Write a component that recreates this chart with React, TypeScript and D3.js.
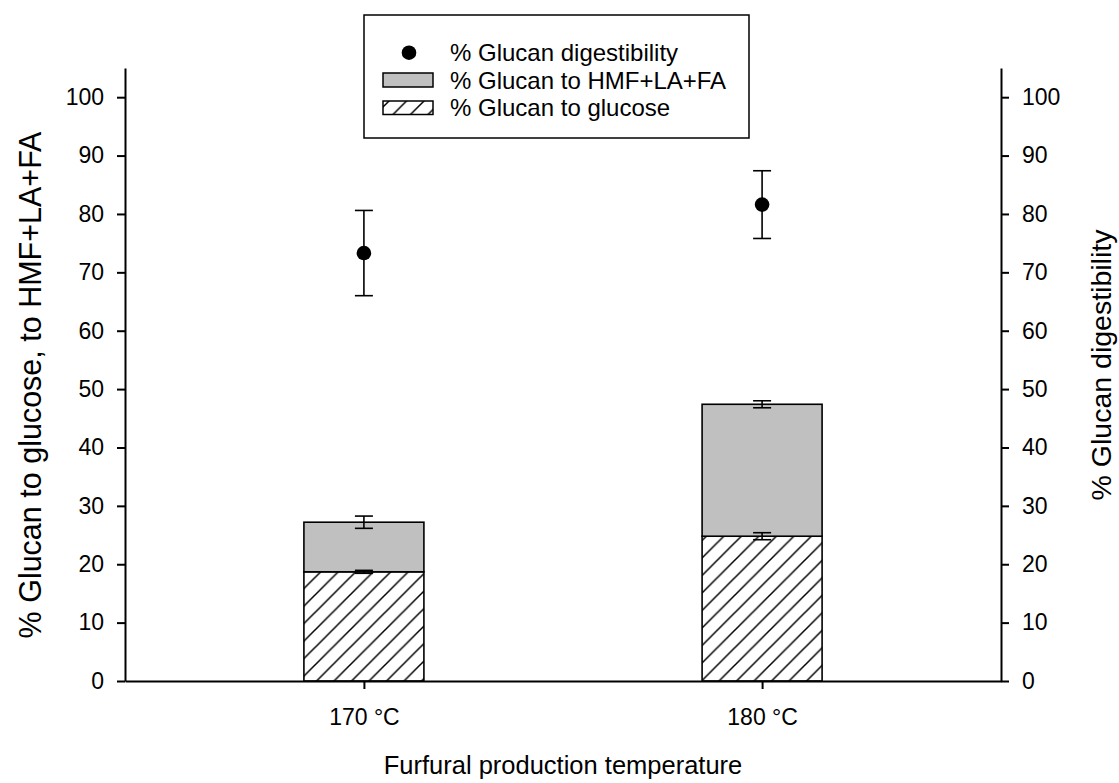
import React from "react";
import { select, scaleLinear, scalePoint, axisLeft, axisRight, axisBottom } from "d3";

// data
const categories = ["170 °C", "180 °C"];
const glucose = [18.7, 24.8];
const glucoseErr = [0.25, 0.6];
const hmfLaFa = [8.5, 22.6];
const totalErr = [1.05, 0.6];
const digestibility = [73.3, 81.6];
const digestibilityErr = [7.3, 5.8];
const yTicks = [0, 10, 20, 30, 40, 50, 60, 70, 80, 90, 100];

const W = 1119;
const H = 783;
const FONT = "Arial, 'Liberation Sans', Helvetica, sans-serif";

export default function App() {
  const svgRef = React.useRef<SVGSVGElement>(null);

  const plot = { left: 125, right: 1001, top: 68, bottom: 681 };
  const y = scaleLinear().domain([0, 105]).range([plot.bottom, plot.top]);
  const x = scalePoint().domain(categories).range([plot.left, plot.right]).padding(0.6);
  const barW = 120;
  const capW = 18;

  React.useEffect(() => {
    const svg = select(svgRef.current);
    const yAxisL = axisLeft(y).tickValues(yTicks).tickSize(8).tickSizeOuter(0).tickPadding(13);
    const yAxisR = axisRight(y).tickValues(yTicks).tickSize(8).tickSizeOuter(0).tickPadding(13);
    const xAxis = axisBottom(x).tickSize(8).tickSizeOuter(0).tickPadding(20);

    svg.select(".y-axis-left").attr("transform", `translate(${plot.left},0)`).call(yAxisL as any);
    svg.select(".y-axis-right").attr("transform", `translate(${plot.right},0)`).call(yAxisR as any);
    svg.select(".x-axis").attr("transform", `translate(0,${plot.bottom})`).call(xAxis as any);

    svg.selectAll(".axis").attr("font-family", FONT).attr("font-size", 23);
    svg.selectAll(".axis text").attr("fill", "#000");
    svg.selectAll(".axis path, .axis line").attr("stroke", "#000").attr("stroke-width", 2);
  }, []);

  const errBar = (cx: number, v: number, e: number, key: string) => (
    <g key={key} stroke="#000" strokeWidth={1.6}>
      <line x1={cx} x2={cx} y1={y(v - e)} y2={y(v + e)} />
      <line x1={cx - capW / 2} x2={cx + capW / 2} y1={y(v + e)} y2={y(v + e)} />
      <line x1={cx - capW / 2} x2={cx + capW / 2} y1={y(v - e)} y2={y(v - e)} />
    </g>
  );

  return (
    <svg
      ref={svgRef}
      width={W}
      height={H}
      style={{ position: "absolute", left: 0, top: 0, background: "#fff" }}
      fontFamily={FONT}
    >
      <defs>
        <pattern id="hatch" patternUnits="userSpaceOnUse" width={17.5} height={17.5}>
          <path
            d="M0,17.5 L17.5,0 M-4,4 L4,-4 M13.5,21.5 L21.5,13.5"
            stroke="#000"
            strokeWidth={1.5}
          />
        </pattern>
      </defs>
      <rect width={W} height={H} fill="#fff" />

      {/* stacked bars */}
      {categories.map((c, i) => {
        const cx = x(c) as number;
        return (
          <g key={c}>
            <rect
              x={cx - barW / 2}
              y={y(glucose[i])}
              width={barW}
              height={y(0) - y(glucose[i])}
              fill="url(#hatch)"
              stroke="#000"
              strokeWidth={1.6}
            />
            <rect
              x={cx - barW / 2}
              y={y(glucose[i] + hmfLaFa[i])}
              width={barW}
              height={y(glucose[i]) - y(glucose[i] + hmfLaFa[i])}
              fill="#c0c0c0"
              stroke="#000"
              strokeWidth={1.6}
            />
            {errBar(cx, glucose[i], glucoseErr[i], "ge")}
            {errBar(cx, glucose[i] + hmfLaFa[i], totalErr[i], "te")}
            {errBar(cx, digestibility[i], digestibilityErr[i], "de")}
            <circle cx={cx} cy={y(digestibility[i])} r={7.3} fill="#000" />
          </g>
        );
      })}

      <g className="axis y-axis-left" />
      <g className="axis y-axis-right" />
      <g className="axis x-axis" />

      {/* axis titles */}
      <text
        transform={`translate(41,385) rotate(-90)`}
        textAnchor="middle"
        fontSize={30.5}
        fill="#000"
      >
        % Glucan to glucose, to HMF+LA+FA
      </text>
      <text
        transform={`translate(1111,365) rotate(-90)`}
        textAnchor="middle"
        fontSize={28.5}
        fill="#000"
      >
        % Glucan digestibility
      </text>
      <text x={563} y={774} textAnchor="middle" fontSize={25.5} fill="#000">
        Furfural production temperature
      </text>

      {/* legend */}
      <g>
        <rect x={364} y={15} width={385} height={123} fill="#fff" stroke="#000" strokeWidth={1.5} />
        <circle cx={409} cy={52.7} r={7.3} fill="#000" />
        <rect x={383} y={73} width={50} height={14} fill="#c0c0c0" stroke="#000" strokeWidth={1.5} />
        <rect x={383} y={101} width={50} height={13.5} fill="url(#hatch)" stroke="#000" strokeWidth={1.5} />
        <g fontSize={24} fill="#000">
          <text x={450} y={61}>% Glucan digestibility</text>
          <text x={450} y={88.5}>% Glucan to HMF+LA+FA</text>
          <text x={450} y={116}>% Glucan to glucose</text>
        </g>
      </g>
    </svg>
  );
}
